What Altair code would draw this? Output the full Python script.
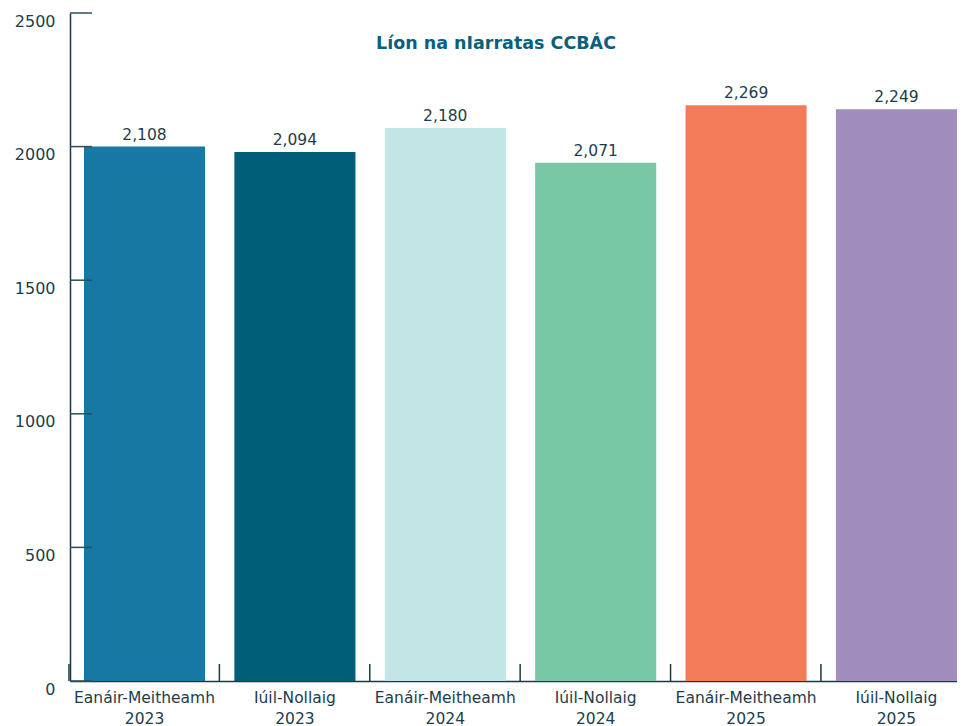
import altair as alt
import pandas as pd

# Data
categories = [
    "Eanáir-Meitheamh 2023",
    "Iúil-Nollaig 2023",
    "Eanáir-Meitheamh 2024",
    "Iúil-Nollaig 2024",
    "Eanáir-Meitheamh 2025",
    "Iúil-Nollaig 2025",
]
bar_values = [2000, 1980, 2070, 1940, 2155, 2140]
value_labels = ["2,108", "2,094", "2,180", "2,071", "2,269", "2,249"]
bar_colors = ["#1779a3", "#005e78", "#c2e5e6", "#78c8a6", "#f47b59", "#a08dbd"]
y_ticks = [0, 500, 1000, 1500, 2000, 2500]
title_text = "Líon na nIarratas CCBÁC"

FONT = "DejaVu Sans"
TEXT = "#1d3d4a"
W, H = 887, 668
P_INNER = 0.195
P_OUTER = 0.0465

df = pd.DataFrame({"cat": categories, "value": bar_values, "label": value_labels})
tick_df = pd.DataFrame({"t": y_ticks})
title_df = pd.DataFrame({"title": [title_text]})

# all outer padding on the left: the reference's band scale runs on past the right edge
xscale = alt.Scale(domain=categories, paddingInner=P_INNER, paddingOuter=P_OUTER, align=1)
yscale = alt.Scale(domain=[0, 2500], nice=False)

x_enc = alt.X(
    "cat:N",
    sort=None,
    scale=xscale,
    title=None,
    axis=alt.Axis(
        labelAngle=0,
        labelExpr="split(datum.label, ' ')",
        labelFont=FONT,
        labelFontSize=15.5,
        labelColor=TEXT,
        labelLineHeight=21,
        labelPadding=9,
        ticks=False,
        grid=False,
        domainColor="#1a3a47",
        domainWidth=1.5,
    ),
)

bars = alt.Chart(df).mark_bar().encode(
    x=x_enc,
    y=alt.Y(
        "value:Q",
        scale=yscale,
        title=None,
        axis=alt.Axis(
            values=y_ticks,
            format="d",
            ticks=False,
            grid=False,
            labelFont=FONT,
            labelFontSize=16,
            labelColor=TEXT,
            labelPadding=15,
            labelOffset=8,
            domainColor="#1a3a47",
            domainWidth=1.5,
        ),
    ),
    color=alt.Color("cat:N", scale=alt.Scale(domain=categories, range=bar_colors), legend=None),
)

labels = alt.Chart(df).mark_text(
    font=FONT, fontSize=15.5, color=TEXT, baseline="alphabetic", dy=-7
).encode(
    x=alt.X("cat:N", sort=None, scale=xscale),
    y=alt.Y("value:Q", scale=yscale),
    text="label:N",
)

y_tick_rules = alt.Chart(tick_df).mark_rule(color="#2d4f5c", strokeWidth=1.5).encode(
    y=alt.Y("t:Q", scale=yscale),
    x=alt.value(0),
    x2=alt.value(22),
)

x_tick_rules = alt.Chart(df).mark_rule(color="#1a3a47", strokeWidth=1.5, xOffset=-15).encode(
    x=alt.X("cat:N", sort=None, scale=xscale, bandPosition=0),
    y=alt.value(H - 17),
    y2=alt.value(H),
)

title = alt.Chart(title_df).mark_text(
    font=FONT, fontSize=17.5, fontWeight="bold", color="#0a5f7c", baseline="middle", align="center"
).encode(
    x=alt.value(426),
    y=alt.value(31),
    text="title:N",
)

chart = (
    alt.layer(bars, labels, y_tick_rules, x_tick_rules, title)
    .properties(
        width=W,
        height=H,
        background="white",
        padding={"left": 6, "top": 4, "right": 0, "bottom": 5},
    )
    .configure_view(strokeWidth=0, stroke="transparent")
    .configure_axis(grid=False)
)

chart.save("out.html", embed_options={"renderer": "svg", "actions": False})
